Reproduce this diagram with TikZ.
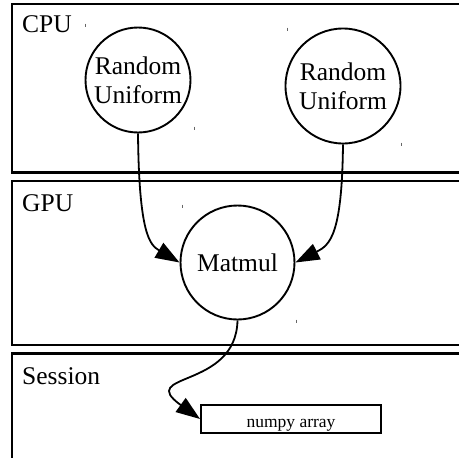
\documentclass[tikz,border=0pt]{standalone}
\usepackage{fontspec}
\setmainfont{Liberation Serif}
\usetikzlibrary{arrows.meta}
\begin{document}
\begin{tikzpicture}[x=1pt,y=-1pt,
  frame/.style={draw=black,line width=2.4pt},
  op/.style={circle,draw=black,line width=1.9pt,inner sep=0pt,align=center,
    font=\fontsize{25.5}{29}\selectfont},
  lbl/.style={anchor=base west,inner sep=0pt,font=\fontsize{25.5}{29}\selectfont},
  res/.style={rectangle,draw=black,line width=1.9pt,minimum width=180pt,minimum height=28pt,
    inner sep=0pt,font=\fontsize{17.5}{20}\selectfont},
  flow/.style={draw=black,line width=1.8pt,-{Triangle[length=24pt,width=17pt]}},
  tick/.style={draw=black!60,line width=0.8pt}]
\useasboundingbox (0,0) rectangle (459,458);
\clip (0,0) rectangle (459,458);
% frames
\draw[frame] (12,4) rectangle (475,172.5);
\draw[frame] (12,181) rectangle (475,345);
\draw[frame] (12,353.5) rectangle (475,475);
\node[lbl] (cpu) at (22,32) {CPU};
\node[lbl] (gpu) at (22,211) {GPU};
\node[lbl] (sess) at (22,384) {Session};
% nodes
\node[op,minimum size=105pt] (r1) at (138,80) {Random\\Uniform};
\node[op,minimum size=115pt] (r2) at (343,86) {Random\\Uniform};
\node[op,minimum size=114pt] (m) at (237.5,262.5) {Matmul};
\node[res] (n) at (291,419) {\raisebox{-8pt}[0pt][0pt]{numpy array}};
% edges
\draw[flow] (r1.south) .. controls (139,235) and (150,245) .. (m.west);
\draw[flow] (r2.south) .. controls (342,235) and (330,245) .. (m.east);
\draw[flow] (m.south) .. controls (236,390) and (135,372) .. (n.west);
% tiny marks
\foreach \x/\y in {85/25,194/128,287/29,401/144,182/206,296/321}
  \draw[tick] (\x,\y-1.5) -- (\x,\y+1.5);
\end{tikzpicture}
\end{document}
